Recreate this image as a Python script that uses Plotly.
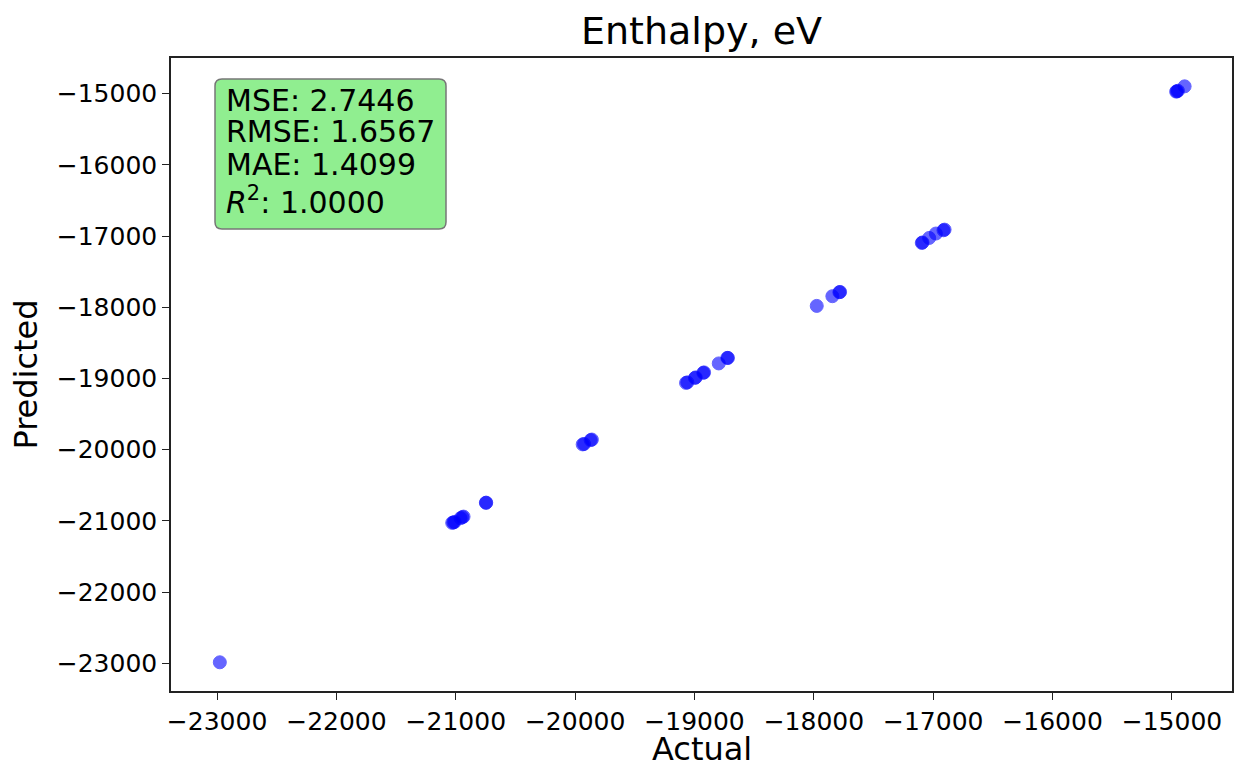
import plotly.graph_objects as go

# ---- data ----
actual = [
    -22977,
    -21030, -21020, -21010, -20960, -20945, -20935,
    -20748, -20745,
    -19937, -19925, -19870, -19860,
    -19071, -19060, -18996, -18990, -18926, -18920,
    -18797,
    -18725, -18720,
    -17976,
    -17845, -17786, -17780,
    -17096, -17090, -17034, -16978, -16914, -16905,
    -14965, -14958, -14950, -14894,
]
predicted = [
    -22986,
    -21028, -21022, -21015, -20962, -20948, -20940,
    -20746, -20744,
    -19926, -19920, -19866, -19858,
    -19062, -19055, -18992, -18985, -18921, -18915,
    -18789,
    -18711, -18712,
    -17981,
    -17845, -17789, -17785,
    -17097, -17090, -17027, -16965, -16919, -16910,
    -14972, -14968, -14960, -14898,
]
tick_vals = [-23000, -22000, -21000, -20000, -19000, -18000, -17000, -16000, -15000]
tick_text = ["\u221223000", "\u221222000", "\u221221000", "\u221220000", "\u221219000",
             "\u221218000", "\u221217000", "\u221216000", "\u221215000"]
metric_lines = ["MSE: 2.7446", "RMSE: 1.6567", "MAE: 1.4099", "<i>R</i><sup>2</sup>: 1.0000"]
title_text = "Enthalpy, eV"
x_label = "Actual"
y_label = "Predicted"

# ---- layout geometry ----
W, H = 1234, 767
L, R, T, B = 171, 2, 58, 76
PW, PH = W - L - R, H - T - B
FONT = "DejaVu Sans"

def px(x):
    return (x - L) / PW

def py(y):
    return 1 - (y - T) / PH

fig = go.Figure()
fig.add_trace(go.Scatter(
    x=actual, y=predicted, mode="markers",
    marker=dict(size=13, color="blue", opacity=0.6,
                line=dict(color="blue", width=1)),
    showlegend=False,
))

axis_common = dict(
    tickvals=tick_vals, ticktext=tick_text,
    showgrid=False, zeroline=False, automargin=False,
    showline=True, linecolor="#222", linewidth=1.5, mirror=True,
    ticks="outside", ticklen=7, tickwidth=1.2, tickcolor="#222",
    tickfont=dict(family=FONT, size=25, color="black"),
)
fig.update_xaxes(range=[-23386, -14497], **axis_common)
fig.update_yaxes(range=[-23389, -14500],
                 title=dict(text=y_label, font=dict(family=FONT, size=32, color="black"), standoff=10),
                 **axis_common)

# x-axis label placed as an annotation just under the tick labels
fig.add_annotation(text=x_label, xref="paper", yref="paper", x=0.5, y=py(749),
                   xanchor="center", yanchor="middle", showarrow=False,
                   font=dict(family=FONT, size=32, color="black"))

# rounded metrics box
x0, x1, y0, y1 = 215, 446, 79, 229
r = 7
path = (f"M {px(x0 + r)} {py(y0)} L {px(x1 - r)} {py(y0)} "
        f"Q {px(x1)} {py(y0)} {px(x1)} {py(y0 + r)} "
        f"L {px(x1)} {py(y1 - r)} Q {px(x1)} {py(y1)} {px(x1 - r)} {py(y1)} "
        f"L {px(x0 + r)} {py(y1)} Q {px(x0)} {py(y1)} {px(x0)} {py(y1 - r)} "
        f"L {px(x0)} {py(y0 + r)} Q {px(x0)} {py(y0)} {px(x0 + r)} {py(y0)} Z")
fig.add_shape(type="path", path=path, xref="paper", yref="paper",
              fillcolor="#90EE90", line=dict(color="#777", width=1.5), layer="above")

centers = [100, 131.7, 164, 201]
for txt, cy in zip(metric_lines, centers):
    fig.add_annotation(text=txt, xref="paper", yref="paper", x=px(224), y=py(cy),
                       xanchor="left", yanchor="middle", showarrow=False,
                       font=dict(family=FONT, size=30, color="black"))

fig.update_layout(
    width=W, height=H,
    margin=dict(l=L, r=R, t=T, b=B),
    paper_bgcolor="white", plot_bgcolor="white",
    title=dict(text=title_text, xref="paper", x=0.5, xanchor="center",
               yref="container", y=1 - 31 / H, yanchor="middle",
               font=dict(family=FONT, size=38, color="black")),
)

fig.write_html("out.html")
